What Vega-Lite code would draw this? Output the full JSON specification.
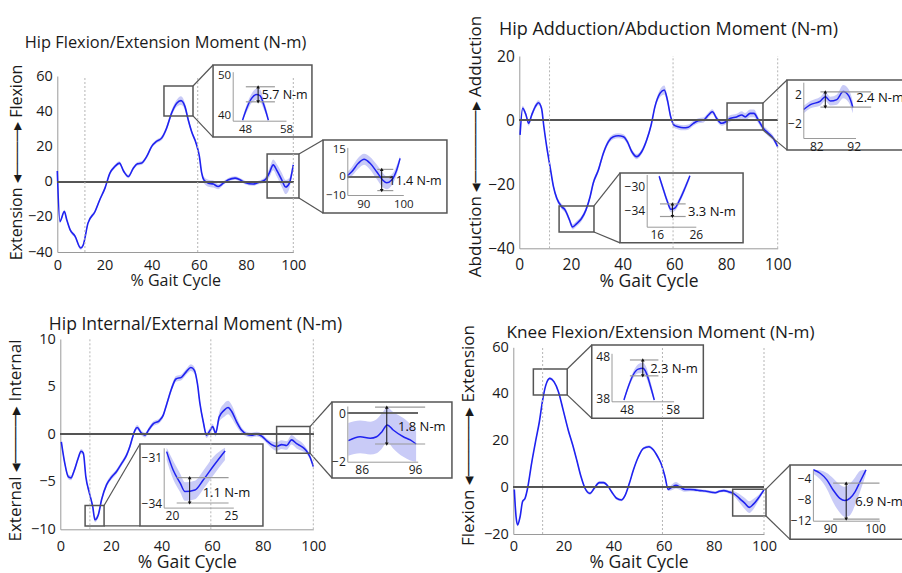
{
  "$schema": "https://vega.github.io/schema/vega-lite/v6.json",
  "width": 902,
  "height": 573,
  "padding": 0,
  "autosize": {"type": "none"},
  "background": "white",
  "config": {
    "view": {"stroke": null},
    "font": "Open Sans",
    "axis": {"grid": false, "ticks": false, "labelFlush": false, "labelOverlap": false, "domainColor": "#9a9a9a", "labelColor": "#1a1a1a", "titleColor": "#1a1a1a", "titleFontWeight": "normal", "labelFont": "Open Sans", "titleFont": "Open Sans"}
  },
  "datasets": {
    "events": [{"event": 11.7}, {"event": 59.5}, {"event": 100}],
    "hipFlexExt": [
      {"cycle": 0, "mean": 6, "lower": 5, "upper": 7},
      {"cycle": 1.1, "mean": -22.6, "lower": -23.6, "upper": -21.6},
      {"cycle": 3, "mean": -17, "lower": -18, "upper": -16},
      {"cycle": 4, "mean": -21.7, "lower": -22.7, "upper": -20.7},
      {"cycle": 5.4, "mean": -27.3, "lower": -28.3, "upper": -26.3},
      {"cycle": 7.5, "mean": -31, "lower": -32, "upper": -30},
      {"cycle": 9.9, "mean": -37.7, "lower": -38.7, "upper": -36.7},
      {"cycle": 11, "mean": -36, "lower": -37, "upper": -35},
      {"cycle": 13, "mean": -23.6, "lower": -24.6, "upper": -22.6},
      {"cycle": 16, "mean": -17, "lower": -18, "upper": -16},
      {"cycle": 18, "mean": -10.3, "lower": -11.3, "upper": -9.3},
      {"cycle": 20.2, "mean": -3.7, "lower": -4.7, "upper": -2.7},
      {"cycle": 22.3, "mean": 4.8, "lower": 3.8, "upper": 5.8},
      {"cycle": 24.4, "mean": 8.6, "lower": 7.6, "upper": 9.6},
      {"cycle": 26.3, "mean": 10.5, "lower": 9.5, "upper": 11.5},
      {"cycle": 28.2, "mean": 5.7, "lower": 4.7, "upper": 6.7},
      {"cycle": 30.1, "mean": 2.9, "lower": 1.9, "upper": 3.9},
      {"cycle": 32.2, "mean": 7.6, "lower": 6.6, "upper": 8.6},
      {"cycle": 34, "mean": 10.1, "lower": 9.1, "upper": 11.1},
      {"cycle": 35.7, "mean": 10.5, "lower": 9.5, "upper": 11.5},
      {"cycle": 37.9, "mean": 14.3, "lower": 13.3, "upper": 15.3},
      {"cycle": 40, "mean": 20, "lower": 19, "upper": 21},
      {"cycle": 42, "mean": 22.8, "lower": 21.8, "upper": 23.8},
      {"cycle": 44.2, "mean": 24.7, "lower": 23.5, "upper": 25.9},
      {"cycle": 46.3, "mean": 30.3, "lower": 28.8, "upper": 31.8},
      {"cycle": 48.4, "mean": 38.8, "lower": 37, "upper": 40.6},
      {"cycle": 50.6, "mean": 44.5, "lower": 42.5, "upper": 46.5},
      {"cycle": 52.4, "mean": 46, "lower": 43.5, "upper": 48.5},
      {"cycle": 54.1, "mean": 42.6, "lower": 40.6, "upper": 44.6},
      {"cycle": 55.5, "mean": 35, "lower": 33.5, "upper": 36.5},
      {"cycle": 56.9, "mean": 28.4, "lower": 27.2, "upper": 29.6},
      {"cycle": 58.8, "mean": 21.8, "lower": 20.8, "upper": 22.8},
      {"cycle": 60.2, "mean": 14.3, "lower": 13.3, "upper": 15.3},
      {"cycle": 61.2, "mean": 4.8, "lower": 3.3, "upper": 6.3},
      {"cycle": 62.1, "mean": 1, "lower": -0.8, "upper": 2.8},
      {"cycle": 64, "mean": -0.9, "lower": -2.9, "upper": 1.1},
      {"cycle": 66.1, "mean": -1.4, "lower": -3.4, "upper": 0.6},
      {"cycle": 68.2, "mean": -2.8, "lower": -4.3, "upper": -1.3},
      {"cycle": 70.3, "mean": -0.9, "lower": -1.9, "upper": 0.1},
      {"cycle": 72.5, "mean": 1, "lower": 0, "upper": 2},
      {"cycle": 75.3, "mean": 2, "lower": 1, "upper": 3},
      {"cycle": 77.4, "mean": 1, "lower": 0, "upper": 2},
      {"cycle": 79.5, "mean": -0.5, "lower": -1.5, "upper": 0.5},
      {"cycle": 83, "mean": -1.4, "lower": -2.4, "upper": -0.4},
      {"cycle": 85.2, "mean": -0.5, "lower": -1.5, "upper": 0.5},
      {"cycle": 88, "mean": 1, "lower": -0.5, "upper": 2.5},
      {"cycle": 89.8, "mean": 4.8, "lower": 2.3, "upper": 7.3},
      {"cycle": 91.5, "mean": 9.5, "lower": 6.5, "upper": 12.5},
      {"cycle": 92.9, "mean": 6.7, "lower": 3.2, "upper": 10.2},
      {"cycle": 95.1, "mean": 1, "lower": -3, "upper": 5},
      {"cycle": 96.8, "mean": -3.1, "lower": -7.1, "upper": 0.9},
      {"cycle": 98.3, "mean": -1, "lower": -4, "upper": 2},
      {"cycle": 100, "mean": 9.5, "lower": 7.5, "upper": 11.5}
    ],
    "hipAddAbd": [
      {"cycle": 0.3, "mean": -4.6, "lower": -5.4, "upper": -3.8},
      {"cycle": 1.3, "mean": 3.7, "lower": 2.9, "upper": 4.5},
      {"cycle": 2.6, "mean": 1.6, "lower": 0.8, "upper": 2.4},
      {"cycle": 3.6, "mean": -1, "lower": -1.8, "upper": -0.2},
      {"cycle": 4.8, "mean": 1.6, "lower": 0.8, "upper": 2.4},
      {"cycle": 6.2, "mean": 4.2, "lower": 3.4, "upper": 5},
      {"cycle": 7.4, "mean": 5.4, "lower": 4.6, "upper": 6.2},
      {"cycle": 8.6, "mean": 3.7, "lower": 2.9, "upper": 4.5},
      {"cycle": 9.5, "mean": -2, "lower": -2.8, "upper": -1.2},
      {"cycle": 10.6, "mean": -8.3, "lower": -9.1, "upper": -7.5},
      {"cycle": 11.9, "mean": -14.5, "lower": -15.3, "upper": -13.7},
      {"cycle": 13.2, "mean": -20.7, "lower": -21.5, "upper": -19.9},
      {"cycle": 14.5, "mean": -24.4, "lower": -25.2, "upper": -23.6},
      {"cycle": 16.4, "mean": -27, "lower": -27.8, "upper": -26.2},
      {"cycle": 17.7, "mean": -28, "lower": -28.8, "upper": -27.2},
      {"cycle": 19.4, "mean": -31.1, "lower": -31.9, "upper": -30.3},
      {"cycle": 20.6, "mean": -33.3, "lower": -34.1, "upper": -32.5},
      {"cycle": 22.2, "mean": -32.3, "lower": -33.1, "upper": -31.5},
      {"cycle": 24, "mean": -30.8, "lower": -31.6, "upper": -30},
      {"cycle": 25.8, "mean": -28, "lower": -28.8, "upper": -27.2},
      {"cycle": 27.4, "mean": -23.9, "lower": -24.7, "upper": -23.1},
      {"cycle": 28.6, "mean": -19.7, "lower": -20.5, "upper": -18.9},
      {"cycle": 30.6, "mean": -15.6, "lower": -16.4, "upper": -14.8},
      {"cycle": 32.5, "mean": -10.4, "lower": -11.2, "upper": -9.6},
      {"cycle": 34.5, "mean": -6.7, "lower": -7.5, "upper": -5.9},
      {"cycle": 36.4, "mean": -5.2, "lower": -6, "upper": -4.4},
      {"cycle": 38.3, "mean": -4.9, "lower": -5.7, "upper": -4.1},
      {"cycle": 40.3, "mean": -5.2, "lower": -6, "upper": -4.4},
      {"cycle": 41.8, "mean": -6.7, "lower": -7.5, "upper": -5.9},
      {"cycle": 43.5, "mean": -9.8, "lower": -10.6, "upper": -9},
      {"cycle": 45.4, "mean": -11.4, "lower": -12.2, "upper": -10.6},
      {"cycle": 47.4, "mean": -9.8, "lower": -10.6, "upper": -9},
      {"cycle": 49.3, "mean": -6.2, "lower": -7, "upper": -5.4},
      {"cycle": 51, "mean": -1.6, "lower": -2.4, "upper": -0.8},
      {"cycle": 52.5, "mean": 4.2, "lower": 3.4, "upper": 5},
      {"cycle": 54.5, "mean": 8.4, "lower": 7.2, "upper": 9.6},
      {"cycle": 56.1, "mean": 9.4, "lower": 8, "upper": 10.8},
      {"cycle": 57.3, "mean": 6.3, "lower": 5.1, "upper": 7.5},
      {"cycle": 58.6, "mean": 1, "lower": 0.2, "upper": 1.8},
      {"cycle": 59.9, "mean": -1.6, "lower": -2.4, "upper": -0.8},
      {"cycle": 61.5, "mean": -2.1, "lower": -2.9, "upper": -1.3},
      {"cycle": 63.5, "mean": -2.4, "lower": -3.2, "upper": -1.6},
      {"cycle": 65.4, "mean": -2.2, "lower": -3, "upper": -1.4},
      {"cycle": 67.4, "mean": -1, "lower": -1.8, "upper": -0.2},
      {"cycle": 69.3, "mean": -0.2, "lower": -1, "upper": 0.6},
      {"cycle": 71.2, "mean": 0, "lower": -0.8, "upper": 0.8},
      {"cycle": 73.2, "mean": 1.6, "lower": 0.8, "upper": 2.4},
      {"cycle": 74.7, "mean": 2.6, "lower": 1.8, "upper": 3.4},
      {"cycle": 76.4, "mean": 0.5, "lower": -0.3, "upper": 1.3},
      {"cycle": 78.3, "mean": -1, "lower": -1.8, "upper": -0.2},
      {"cycle": 80, "mean": -0.5, "lower": -1.3, "upper": 0.3},
      {"cycle": 81.5, "mean": 0.5, "lower": -0.5, "upper": 1.5},
      {"cycle": 84.1, "mean": 1, "lower": 0, "upper": 2},
      {"cycle": 86.1, "mean": 1.6, "lower": 0.4, "upper": 2.8},
      {"cycle": 87.4, "mean": 1, "lower": -0.2, "upper": 2.2},
      {"cycle": 89.3, "mean": 2.1, "lower": 0.9, "upper": 3.3},
      {"cycle": 90.8, "mean": 2.1, "lower": 0.9, "upper": 3.3},
      {"cycle": 92.5, "mean": 0, "lower": -1, "upper": 1},
      {"cycle": 94.5, "mean": -2.6, "lower": -3.5, "upper": -1.7},
      {"cycle": 96.4, "mean": -4.1, "lower": -5, "upper": -3.2},
      {"cycle": 98.3, "mean": -5.7, "lower": -6.5, "upper": -4.9},
      {"cycle": 100, "mean": -8.3, "lower": -9, "upper": -7.6}
    ],
    "hipIntExt": [
      {"cycle": 0.4, "mean": -0.8, "lower": -1.05, "upper": -0.55},
      {"cycle": 1.8, "mean": -3.1, "lower": -3.35, "upper": -2.85},
      {"cycle": 3.2, "mean": -4.5, "lower": -4.75, "upper": -4.25},
      {"cycle": 4.2, "mean": -4.6, "lower": -4.85, "upper": -4.35},
      {"cycle": 5.4, "mean": -3.9, "lower": -4.15, "upper": -3.65},
      {"cycle": 7.1, "mean": -2.5, "lower": -2.75, "upper": -2.25},
      {"cycle": 8.2, "mean": -1.8, "lower": -2.05, "upper": -1.55},
      {"cycle": 9.1, "mean": -2, "lower": -2.25, "upper": -1.75},
      {"cycle": 10.1, "mean": -4.5, "lower": -4.75, "upper": -4.25},
      {"cycle": 11.5, "mean": -6.2, "lower": -6.45, "upper": -5.95},
      {"cycle": 12.8, "mean": -7.6, "lower": -7.85, "upper": -7.35},
      {"cycle": 13.7, "mean": -9, "lower": -9.25, "upper": -8.75},
      {"cycle": 15, "mean": -8.5, "lower": -8.75, "upper": -8.25},
      {"cycle": 16.3, "mean": -6.9, "lower": -7.15, "upper": -6.65},
      {"cycle": 18.3, "mean": -5.3, "lower": -5.55, "upper": -5.05},
      {"cycle": 20.3, "mean": -4.5, "lower": -4.75, "upper": -4.25},
      {"cycle": 22.3, "mean": -3.9, "lower": -4.15, "upper": -3.65},
      {"cycle": 24.2, "mean": -3.1, "lower": -3.35, "upper": -2.85},
      {"cycle": 26.2, "mean": -2.2, "lower": -2.45, "upper": -1.95},
      {"cycle": 27.5, "mean": -1.3, "lower": -1.55, "upper": -1.05},
      {"cycle": 28.6, "mean": -0.3, "lower": -0.55, "upper": -0.05},
      {"cycle": 29.5, "mean": 0.4, "lower": 0.15, "upper": 0.65},
      {"cycle": 30.4, "mean": 0.7, "lower": 0.45, "upper": 0.95},
      {"cycle": 32.1, "mean": 0.1, "lower": -0.15, "upper": 0.35},
      {"cycle": 33.5, "mean": -0.1, "lower": -0.35, "upper": 0.15},
      {"cycle": 34.8, "mean": 0.4, "lower": 0.15, "upper": 0.65},
      {"cycle": 36.8, "mean": 1.1, "lower": 0.85, "upper": 1.35},
      {"cycle": 39.1, "mean": 1.4, "lower": 1.15, "upper": 1.65},
      {"cycle": 40.7, "mean": 2, "lower": 1.75, "upper": 2.25},
      {"cycle": 42, "mean": 3.1, "lower": 2.85, "upper": 3.35},
      {"cycle": 44, "mean": 4.8, "lower": 4.5, "upper": 5.1},
      {"cycle": 45.7, "mean": 5.8, "lower": 5.5, "upper": 6.1},
      {"cycle": 48, "mean": 6, "lower": 5.7, "upper": 6.3},
      {"cycle": 49.9, "mean": 6.6, "lower": 6.3, "upper": 6.9},
      {"cycle": 51.6, "mean": 7, "lower": 6.65, "upper": 7.35},
      {"cycle": 53, "mean": 6.7, "lower": 6.35, "upper": 7.05},
      {"cycle": 54.2, "mean": 5.3, "lower": 5, "upper": 5.6},
      {"cycle": 55.2, "mean": 3.2, "lower": 2.9, "upper": 3.5},
      {"cycle": 56.5, "mean": 1.3, "lower": 1, "upper": 1.6},
      {"cycle": 57.8, "mean": -0.1, "lower": -0.4, "upper": 0.2},
      {"cycle": 59.2, "mean": 0.4, "lower": 0.1, "upper": 0.7},
      {"cycle": 60.2, "mean": 0.8, "lower": 0.5, "upper": 1.1},
      {"cycle": 61.4, "mean": 0.1, "lower": -0.25, "upper": 0.45},
      {"cycle": 62.8, "mean": 1.8, "lower": 1.3, "upper": 2.3},
      {"cycle": 64.7, "mean": 2.5, "lower": 1.8, "upper": 3.2},
      {"cycle": 66.3, "mean": 2.8, "lower": 2.1, "upper": 3.5},
      {"cycle": 67.7, "mean": 2.4, "lower": 1.7, "upper": 3.1},
      {"cycle": 69.7, "mean": 1.3, "lower": 0.8, "upper": 1.8},
      {"cycle": 71.7, "mean": 0.4, "lower": 0.1, "upper": 0.7},
      {"cycle": 73.6, "mean": 0, "lower": -0.25, "upper": 0.25},
      {"cycle": 75.6, "mean": -0.1, "lower": -0.35, "upper": 0.15},
      {"cycle": 77.6, "mean": 0, "lower": -0.25, "upper": 0.25},
      {"cycle": 79.6, "mean": -0.2, "lower": -0.45, "upper": 0.05},
      {"cycle": 81.6, "mean": -0.7, "lower": -0.95, "upper": -0.45},
      {"cycle": 83.5, "mean": -1.1, "lower": -1.45, "upper": -0.75},
      {"cycle": 85.5, "mean": -1.3, "lower": -1.75, "upper": -0.85},
      {"cycle": 87.5, "mean": -1.1, "lower": -1.55, "upper": -0.65},
      {"cycle": 89.5, "mean": -1.2, "lower": -1.65, "upper": -0.75},
      {"cycle": 91.4, "mean": -0.6, "lower": -1.1, "upper": -0.1},
      {"cycle": 93.4, "mean": -1, "lower": -1.5, "upper": -0.5},
      {"cycle": 95.4, "mean": -1.3, "lower": -1.75, "upper": -0.85},
      {"cycle": 97.1, "mean": -1.7, "lower": -2, "upper": -1.4},
      {"cycle": 98.7, "mean": -2.4, "lower": -2.65, "upper": -2.15},
      {"cycle": 100, "mean": -3.4, "lower": -3.6, "upper": -3.2}
    ],
    "kneeFlexExt": [
      {"cycle": 0.4, "mean": -0.9, "lower": -1.5, "upper": -0.3},
      {"cycle": 1.1, "mean": -12.6, "lower": -13.2, "upper": -12},
      {"cycle": 1.7, "mean": -16.1, "lower": -16.7, "upper": -15.5},
      {"cycle": 2.7, "mean": -12.6, "lower": -13.2, "upper": -12},
      {"cycle": 3.7, "mean": -6.1, "lower": -6.7, "upper": -5.5},
      {"cycle": 4.7, "mean": -4.7, "lower": -5.3, "upper": -4.1},
      {"cycle": 5.7, "mean": -0.4, "lower": -1, "upper": 0.2},
      {"cycle": 7.3, "mean": 10.3, "lower": 9.7, "upper": 10.9},
      {"cycle": 9, "mean": 20.3, "lower": 19.7, "upper": 20.9},
      {"cycle": 10.4, "mean": 28.1, "lower": 27.5, "upper": 28.7},
      {"cycle": 11.7, "mean": 37.4, "lower": 36.8, "upper": 38},
      {"cycle": 13, "mean": 43.9, "lower": 43.3, "upper": 44.5},
      {"cycle": 14.6, "mean": 46.7, "lower": 46.1, "upper": 47.3},
      {"cycle": 16.2, "mean": 45.3, "lower": 44.7, "upper": 45.9},
      {"cycle": 18, "mean": 41, "lower": 40.4, "upper": 41.6},
      {"cycle": 19.9, "mean": 33.1, "lower": 32.5, "upper": 33.7},
      {"cycle": 21.9, "mean": 24.6, "lower": 24, "upper": 25.2},
      {"cycle": 23.7, "mean": 18.1, "lower": 17.5, "upper": 18.7},
      {"cycle": 25.3, "mean": 11.7, "lower": 11.1, "upper": 12.3},
      {"cycle": 27, "mean": 4.6, "lower": 4, "upper": 5.2},
      {"cycle": 28.6, "mean": -0.4, "lower": -1, "upper": 0.2},
      {"cycle": 30.6, "mean": -2.6, "lower": -3.2, "upper": -2},
      {"cycle": 32.3, "mean": -0.4, "lower": -1, "upper": 0.2},
      {"cycle": 34.3, "mean": 2, "lower": 1.4, "upper": 2.6},
      {"cycle": 35.9, "mean": 2, "lower": 1.4, "upper": 2.6},
      {"cycle": 37.9, "mean": 0.3, "lower": -0.3, "upper": 0.9},
      {"cycle": 39.2, "mean": -1.9, "lower": -2.5, "upper": -1.3},
      {"cycle": 41.2, "mean": -4.7, "lower": -5.3, "upper": -4.1},
      {"cycle": 43.2, "mean": -5.4, "lower": -6, "upper": -4.8},
      {"cycle": 44.5, "mean": -3.7, "lower": -4.3, "upper": -3.1},
      {"cycle": 46.3, "mean": 1.7, "lower": 1.1, "upper": 2.3},
      {"cycle": 47.9, "mean": 7.4, "lower": 6.8, "upper": 8},
      {"cycle": 49.9, "mean": 13.1, "lower": 12.5, "upper": 13.7},
      {"cycle": 51.9, "mean": 16.7, "lower": 16.1, "upper": 17.3},
      {"cycle": 54.1, "mean": 17.4, "lower": 16.8, "upper": 18},
      {"cycle": 55.9, "mean": 16, "lower": 15.4, "upper": 16.6},
      {"cycle": 57.6, "mean": 13.1, "lower": 12.5, "upper": 13.7},
      {"cycle": 58.9, "mean": 10.3, "lower": 9.7, "upper": 10.9},
      {"cycle": 60.5, "mean": 4.6, "lower": 4, "upper": 5.2},
      {"cycle": 61.8, "mean": -0.9, "lower": -1.6, "upper": -0.2},
      {"cycle": 63.2, "mean": 0, "lower": -1.2, "upper": 1.2},
      {"cycle": 64.9, "mean": 0.9, "lower": -0.5, "upper": 2.3},
      {"cycle": 66.5, "mean": 0.1, "lower": -1.1, "upper": 1.3},
      {"cycle": 68.5, "mean": -0.9, "lower": -1.9, "upper": 0.1},
      {"cycle": 70.5, "mean": -0.9, "lower": -1.7, "upper": -0.1},
      {"cycle": 72.5, "mean": -1.1, "lower": -1.8, "upper": -0.4},
      {"cycle": 74.5, "mean": -1.4, "lower": -2, "upper": -0.8},
      {"cycle": 76.5, "mean": -1.6, "lower": -2.2, "upper": -1},
      {"cycle": 78.5, "mean": -2, "lower": -2.6, "upper": -1.4},
      {"cycle": 80.5, "mean": -2.3, "lower": -2.9, "upper": -1.7},
      {"cycle": 82.2, "mean": -1.7, "lower": -2.3, "upper": -1.1},
      {"cycle": 84, "mean": -1.4, "lower": -2, "upper": -0.8},
      {"cycle": 85.8, "mean": -1.9, "lower": -2.6, "upper": -1.2},
      {"cycle": 87.8, "mean": -2.6, "lower": -3.6, "upper": -1.6},
      {"cycle": 90.2, "mean": -4.7, "lower": -6.5, "upper": -2.9},
      {"cycle": 92.4, "mean": -6.9, "lower": -9.4, "upper": -4.6},
      {"cycle": 94.1, "mean": -8.6, "lower": -11, "upper": -6},
      {"cycle": 95.7, "mean": -7.3, "lower": -9.5, "upper": -5},
      {"cycle": 97.7, "mean": -4.7, "lower": -6, "upper": -3.4},
      {"cycle": 100, "mean": -1.1, "lower": -1.8, "upper": -0.4}
    ],
    "zoom1a": [
      {"cycle": 47.4, "mean": 38.9, "lower": 38.9, "upper": 39.6},
      {"cycle": 48.4, "mean": 41.85, "lower": 40.9, "upper": 42.8},
      {"cycle": 49.6, "mean": 44.35, "lower": 43.2, "upper": 45.5},
      {"cycle": 50.9, "mean": 45.35, "lower": 44, "upper": 46.8},
      {"cycle": 51.7, "mean": 45, "lower": 43.6, "upper": 46.5},
      {"cycle": 52.6, "mean": 42.7, "lower": 41.5, "upper": 43.9},
      {"cycle": 53.7, "mean": 38.9, "lower": 38.9, "upper": 39.8}
    ],
    "zoom1b": [
      {"cycle": 86, "mean": 0.55, "lower": -1.5, "upper": 2.5},
      {"cycle": 87.1, "mean": 2.7, "lower": 0.2, "upper": 5.2},
      {"cycle": 88.75, "mean": 7.3, "lower": 4.3, "upper": 10.3},
      {"cycle": 90.2, "mean": 9.5, "lower": 6.5, "upper": 12.5},
      {"cycle": 91.7, "mean": 7.3, "lower": 3.8, "upper": 10.8},
      {"cycle": 93.35, "mean": 2.7, "lower": -1.3, "upper": 6.7},
      {"cycle": 94.85, "mean": -1.8, "lower": -5.8, "upper": 2.2},
      {"cycle": 95.85, "mean": -3.3, "lower": -6.8, "upper": 0.2},
      {"cycle": 97.1, "mean": -1.8, "lower": -4.8, "upper": 1.2},
      {"cycle": 98.35, "mean": 3.7, "lower": 1.2, "upper": 6.2},
      {"cycle": 99.2, "mean": 10, "lower": 8.5, "upper": 11.5}
    ],
    "zoom2a": [
      {"cycle": 16.6, "mean": -28.3, "lower": -28.8, "upper": -28},
      {"cycle": 17.7, "mean": -30.55, "lower": -31.05, "upper": -30.05},
      {"cycle": 18.7, "mean": -32.5, "lower": -33, "upper": -32},
      {"cycle": 19.6, "mean": -33.8, "lower": -34.3, "upper": -33.3},
      {"cycle": 20.6, "mean": -33.6, "lower": -34.1, "upper": -33.1},
      {"cycle": 21.9, "mean": -32.2, "lower": -32.7, "upper": -31.7},
      {"cycle": 23.2, "mean": -30.3, "lower": -30.8, "upper": -29.8},
      {"cycle": 24.5, "mean": -28.2, "lower": -28.7, "upper": -28}
    ],
    "zoom2b": [
      {"cycle": 78.6, "mean": -0.07, "lower": -0.6, "upper": 0.45},
      {"cycle": 80.4, "mean": 0.6, "lower": 0.1, "upper": 1.1},
      {"cycle": 83.1, "mean": 1.1, "lower": 0.5, "upper": 1.7},
      {"cycle": 84.4, "mean": 1.7, "lower": 1.1, "upper": 2.3},
      {"cycle": 85.75, "mean": 1.1, "lower": 0.5, "upper": 1.7},
      {"cycle": 87.5, "mean": 1.3, "lower": 0.6, "upper": 2},
      {"cycle": 89.2, "mean": 2.4, "lower": 1.5, "upper": 3.3},
      {"cycle": 90.7, "mean": 1.8, "lower": 0.9, "upper": 2.7},
      {"cycle": 91.8, "mean": 0.2, "lower": -0.6, "upper": 1}
    ],
    "zoom3a": [
      {"cycle": 19.55, "mean": -30.65, "lower": -31.2, "upper": -30.4},
      {"cycle": 20.1, "mean": -31.85, "lower": -32.45, "upper": -31.25},
      {"cycle": 20.7, "mean": -32.7, "lower": -33.3, "upper": -32.1},
      {"cycle": 21.1, "mean": -33.25, "lower": -33.85, "upper": -32.65},
      {"cycle": 21.95, "mean": -33.15, "lower": -33.75, "upper": -32.55},
      {"cycle": 22.65, "mean": -32.5, "lower": -33.1, "upper": -31.9},
      {"cycle": 23.5, "mean": -31.6, "lower": -32.2, "upper": -31},
      {"cycle": 24.5, "mean": -30.6, "lower": -31.2, "upper": -30.4}
    ],
    "zoom3b": [
      {"cycle": 83.5, "mean": -1.13, "lower": -1.75, "upper": -0.4},
      {"cycle": 85.7, "mean": -0.97, "lower": -1.65, "upper": -0.3},
      {"cycle": 87.6, "mean": -1.03, "lower": -1.7, "upper": -0.35},
      {"cycle": 88.8, "mean": -0.97, "lower": -1.65, "upper": -0.25},
      {"cycle": 89.8, "mean": -0.76, "lower": -1.45, "upper": 0},
      {"cycle": 90.8, "mean": -0.48, "lower": -1.2, "upper": 0.25},
      {"cycle": 91.9, "mean": -0.69, "lower": -1.45, "upper": 0.05},
      {"cycle": 93.8, "mean": -0.97, "lower": -1.8, "upper": -0.2},
      {"cycle": 95.1, "mean": -1.1, "lower": -1.95, "upper": -0.45},
      {"cycle": 96.2, "mean": -1.27, "lower": -2, "upper": -0.75}
    ],
    "zoom4a": [
      {"cycle": 47.4, "mean": 37.6, "lower": 37.3, "upper": 38},
      {"cycle": 48.35, "mean": 40.8, "lower": 40.2, "upper": 41.4},
      {"cycle": 49.4, "mean": 43.6, "lower": 42.8, "upper": 44.4},
      {"cycle": 50.5, "mean": 45, "lower": 44, "upper": 46.2},
      {"cycle": 51.5, "mean": 45.2, "lower": 44, "upper": 46.6},
      {"cycle": 52.3, "mean": 44, "lower": 42.8, "upper": 45.4},
      {"cycle": 53.1, "mean": 41.2, "lower": 40.2, "upper": 42.4},
      {"cycle": 54, "mean": 37.6, "lower": 37.3, "upper": 38.4}
    ],
    "zoom4b": [
      {"cycle": 86.3, "mean": -2.4, "lower": -3.2, "upper": -2.4},
      {"cycle": 87.8, "mean": -3.05, "lower": -4.2, "upper": -2.5},
      {"cycle": 89.3, "mean": -4.3, "lower": -6, "upper": -3},
      {"cycle": 90.7, "mean": -6.2, "lower": -8.5, "upper": -4},
      {"cycle": 92.2, "mean": -7.8, "lower": -10.5, "upper": -5.2},
      {"cycle": 93.3, "mean": -8.2, "lower": -11.3, "upper": -5.6},
      {"cycle": 94.4, "mean": -7.8, "lower": -11, "upper": -5},
      {"cycle": 95.6, "mean": -6.5, "lower": -9, "upper": -3.8},
      {"cycle": 96.7, "mean": -4.6, "lower": -6.5, "upper": -2.6},
      {"cycle": 98, "mean": -2.4, "lower": -3.2, "upper": -2.4}
    ],
    "annotations": [
      {"inset": "1a", "at": 51.2, "from": 48.2, "to": 55.3, "high": 47.25, "low": 43.5, "labelAt": 52.1, "mid": 45.2, "label": "5.7 N-m"},
      {"inset": "1b", "at": 94.6, "from": 93.5, "to": 97.5, "high": 4, "low": -7.6, "labelAt": 96.3, "mid": -2.6, "label": "11.4 N-m"},
      {"inset": "2a", "at": 20, "from": 16.8, "to": 23.4, "high": -32.9, "low": -35, "labelAt": 24, "mid": -34.2, "label": "3.3 N-m"},
      {"inset": "2b", "at": 84.4, "from": 83.1, "to": 96.7, "high": 2.37, "low": 0.25, "labelAt": 92.7, "mid": 1.5, "label": "2.4 N-m"},
      {"inset": "3a", "at": 21.5, "from": 20.4, "to": 24.8, "high": -32.35, "low": -34, "labelAt": 22.6, "mid": -33.35, "label": "1.1 N-m"},
      {"inset": "3b", "at": 90.7, "from": 88.5, "to": 97.9, "high": 0.25, "low": -1.27, "labelAt": 92.8, "mid": -0.55, "label": "1.8 N-m"},
      {"inset": "4a", "at": 51.5, "from": 48.7, "to": 54.9, "high": 47.2, "low": 43.4, "labelAt": 53.1, "mid": 45, "label": "2.3 N-m"},
      {"inset": "4b", "at": 93.6, "from": 90.7, "to": 101, "high": -4.9, "low": -11.7, "labelAt": 95.6, "mid": -8.4, "label": "6.9 N-m"}
    ],
    "frames": [
      {"panel": 1, "part": "inset", "x1": 66, "x2": 107.9, "y1": 66.25, "y2": 25.3},
      {"panel": 1, "part": "inset", "x1": 112.6, "x2": 165.1, "y1": 23.6, "y2": -17.8},
      {"panel": 1, "part": "source", "x1": 45.2, "x2": 57.5, "y1": 54.3, "y2": 37.3},
      {"panel": 1, "part": "source", "x1": 88.9, "x2": 102.4, "y1": 15.7, "y2": -9.3},
      {"panel": 2, "part": "inset", "x1": 39, "x2": 86.6, "y1": -16.5, "y2": -38.3},
      {"panel": 2, "part": "inset", "x1": 103.6, "x2": 151.2, "y1": 12.5, "y2": -9.3},
      {"panel": 2, "part": "source", "x1": 15.4, "x2": 28.9, "y1": -26.8, "y2": -34.9},
      {"panel": 2, "part": "source", "x1": 80.4, "x2": 94.3, "y1": 5.3, "y2": -3.1},
      {"panel": 3, "part": "inset", "x1": 31.5, "x2": 80.1, "y1": -1.04, "y2": -9.65},
      {"panel": 3, "part": "inset", "x1": 107.4, "x2": 154.8, "y1": 3.38, "y2": -4.61},
      {"panel": 3, "part": "source", "x1": 9.8, "x2": 17.3, "y1": -7.5, "y2": -9.65},
      {"panel": 3, "part": "source", "x1": 85.5, "x2": 98.7, "y1": 0.8, "y2": -2},
      {"panel": 4, "part": "inset", "x1": 31.3, "x2": 75.8, "y1": 61, "y2": 29.6},
      {"panel": 4, "part": "inset", "x1": 110.4, "x2": 158.2, "y1": 9.57, "y2": -22.3},
      {"panel": 4, "part": "source", "x1": 8, "x2": 21.5, "y1": 50.7, "y2": 39.6},
      {"panel": 4, "part": "source", "x1": 87.5, "x2": 100.8, "y1": -0.8, "y2": -12.3}
    ],
    "links": [
      {"panel": 1, "x1": 57.5, "y1": 54.3, "x2": 66, "y2": 66.25},
      {"panel": 1, "x1": 57.5, "y1": 37.3, "x2": 66, "y2": 25.3},
      {"panel": 1, "x1": 102.4, "y1": 15.7, "x2": 112.6, "y2": 23.6},
      {"panel": 1, "x1": 102.4, "y1": -9.3, "x2": 112.6, "y2": -17.8},
      {"panel": 2, "x1": 28.9, "y1": -26.8, "x2": 39, "y2": -16.5},
      {"panel": 2, "x1": 28.9, "y1": -34.9, "x2": 39, "y2": -38.3},
      {"panel": 2, "x1": 94.3, "y1": 5.3, "x2": 103.6, "y2": 12.5},
      {"panel": 2, "x1": 94.3, "y1": -3.1, "x2": 103.6, "y2": -9.3},
      {"panel": 3, "x1": 17.3, "y1": -7.5, "x2": 31.5, "y2": -1.04},
      {"panel": 3, "x1": 17.3, "y1": -9.65, "x2": 31.5, "y2": -9.65},
      {"panel": 3, "x1": 98.7, "y1": 0.8, "x2": 107.4, "y2": 3.38},
      {"panel": 3, "x1": 98.7, "y1": -2, "x2": 107.4, "y2": -4.61},
      {"panel": 4, "x1": 21.5, "y1": 50.7, "x2": 31.3, "y2": 61},
      {"panel": 4, "x1": 21.5, "y1": 39.6, "x2": 31.3, "y2": 29.6},
      {"panel": 4, "x1": 100.8, "y1": -0.8, "x2": 110.4, "y2": 9.57},
      {"panel": 4, "x1": 100.8, "y1": -12.3, "x2": 110.4, "y2": -22.3}
    ]
  },
  "resolve": {"scale": {"x": "independent", "y": "independent"}, "axis": {"x": "independent", "y": "independent"}},
  "layer": [
    {
      "data": {"name": "hipFlexExt"},
      "layer": [
        {"mark": {"type": "area", "interpolate": "monotone", "color": "#c9cbf7"},
         "encoding": {
           "x": {"field": "cycle", "type": "quantitative", "scale": {"domain": [0, 100], "range": [57.3, 293.3], "nice": false, "zero": false},
                 "axis": {"orient": "bottom", "offset": -321, "values": [0, 20, 40, 60, 80, 100], "title": "% Gait Cycle", "labelFontSize": 14.5, "titleFontSize": 16, "labelPadding": 6, "titlePadding": 1}},
           "y": {"field": "lower", "type": "quantitative", "scale": {"domain": [-40, 60], "range": [252, 76], "nice": false, "zero": false},
                 "axis": {"orient": "left", "offset": -57.3, "values": [-40, -20, 0, 20, 40, 60], "title": "Extension ◂────▸ Flexion", "labelFontSize": 14.5, "titleFontSize": 16, "labelPadding": 5, "titlePadding": 3, "titleY": 162}},
           "y2": {"field": "upper"}}},
        {"mark": {"type": "line", "interpolate": "monotone", "color": "#1f22f0", "strokeWidth": 1.6},
         "encoding": {"x": {"field": "cycle", "type": "quantitative"}, "y": {"field": "mean", "type": "quantitative"}}},
        {"mark": {"type": "rule", "color": "#555555", "strokeWidth": 1.4},
         "encoding": {"x": {"datum": 0}, "x2": {"datum": 100}, "y": {"datum": 0}}},
        {"data": {"name": "frames"}, "transform": [{"filter": "datum.panel == 1 && datum.part == 'inset'"}],
         "mark": {"type": "rect", "fill": "white", "stroke": "#555555", "strokeWidth": 1.5},
         "encoding": {"x": {"field": "x1", "type": "quantitative"}, "x2": {"field": "x2"}, "y": {"field": "y1", "type": "quantitative"}, "y2": {"field": "y2"}}},
        {"data": {"name": "frames"}, "transform": [{"filter": "datum.panel == 1 && datum.part == 'source'"}],
         "mark": {"type": "rect", "filled": false, "color": "#555555", "strokeWidth": 1.5},
         "encoding": {"x": {"field": "x1", "type": "quantitative"}, "x2": {"field": "x2"}, "y": {"field": "y1", "type": "quantitative"}, "y2": {"field": "y2"}}},
        {"data": {"name": "links"}, "transform": [{"filter": "datum.panel == 1"}],
         "mark": {"type": "rule", "color": "#555555", "strokeWidth": 1.2},
         "encoding": {"x": {"field": "x1", "type": "quantitative"}, "x2": {"field": "x2"}, "y": {"field": "y1", "type": "quantitative"}, "y2": {"field": "y2"}}}
      ]
    },
    {
      "data": {"name": "events"},
      "mark": {"type": "rule", "color": "#b5b5b5", "strokeDash": [2, 2], "strokeWidth": 1},
      "encoding": {
        "x": {"field": "event", "type": "quantitative", "scale": {"domain": [0, 100], "range": [57.3, 293.3], "nice": false, "zero": false},
              "axis": {"orient": "top", "offset": -76, "title": "Hip Flexion/Extension Moment (N-m)", "labels": false, "ticks": false, "domain": false, "titleFontSize": 16.4, "titlePadding": 26, "titleX": 165, "minExtent": 0, "maxExtent": 0}},
        "y": {"datum": -40, "type": "quantitative", "scale": {"domain": [-40, 60], "range": [252, 76], "nice": false, "zero": false}, "axis": null},
        "y2": {"datum": 60}
      }
    },
    {
      "data": {"name": "zoom1a"},
      "layer": [
        {"mark": {"type": "area", "interpolate": "monotone", "color": "#c9cbf7"},
         "encoding": {
           "x": {"field": "cycle", "type": "quantitative", "scale": {"domain": [45, 58], "range": [232.7, 286], "nice": false, "zero": false},
                 "axis": {"orient": "bottom", "offset": -452.3, "values": [48, 58], "format": "d", "title": null, "labelFontSize": 11.5, "labelPadding": 3, "zindex": 2}},
           "y": {"field": "lower", "type": "quantitative", "scale": {"domain": [38.8, 51], "range": [120.7, 71.7], "nice": false, "zero": false},
                 "axis": {"orient": "left", "offset": -232.7, "values": [40, 50], "format": "d", "title": null, "labelFontSize": 11.5, "labelPadding": 2, "zindex": 2}},
           "y2": {"field": "upper"}}},
        {"mark": {"type": "line", "interpolate": "monotone", "color": "#1f22f0", "strokeWidth": 1.5},
         "encoding": {"x": {"field": "cycle", "type": "quantitative"}, "y": {"field": "mean", "type": "quantitative"}}},
        {"data": {"name": "annotations"}, "transform": [{"filter": "datum.inset == '1a'"}],
         "layer": [
           {"mark": {"type": "rule", "color": "#9a9a9a", "strokeWidth": 1.2}, "encoding": {"x": {"field": "from", "type": "quantitative"}, "x2": {"field": "to"}, "y": {"field": "high", "type": "quantitative"}}},
           {"mark": {"type": "rule", "color": "#9a9a9a", "strokeWidth": 1.2}, "encoding": {"x": {"field": "from", "type": "quantitative"}, "x2": {"field": "to"}, "y": {"field": "low", "type": "quantitative"}}},
           {"mark": {"type": "rule", "color": "#111111", "strokeWidth": 1}, "encoding": {"x": {"field": "at", "type": "quantitative"}, "y": {"field": "high", "type": "quantitative"}, "y2": {"field": "low"}}},
           {"mark": {"type": "point", "shape": "triangle-up", "filled": true, "color": "#111111", "size": 14, "opacity": 1}, "encoding": {"x": {"field": "at", "type": "quantitative"}, "y": {"field": "high", "type": "quantitative"}}},
           {"mark": {"type": "point", "shape": "triangle-down", "filled": true, "color": "#111111", "size": 14, "opacity": 1}, "encoding": {"x": {"field": "at", "type": "quantitative"}, "y": {"field": "low", "type": "quantitative"}}},
           {"mark": {"type": "text", "align": "left", "baseline": "middle", "fontSize": 12.5, "color": "#111111"}, "encoding": {"x": {"field": "labelAt", "type": "quantitative"}, "y": {"field": "mid", "type": "quantitative"}, "text": {"field": "label"}}}
         ]}
      ]
    },
    {
      "data": {"name": "zoom1b"},
      "layer": [
        {"mark": {"type": "area", "interpolate": "monotone", "color": "#c9cbf7"},
         "encoding": {
           "x": {"field": "cycle", "type": "quantitative", "scale": {"domain": [86, 100], "range": [347.3, 403.3], "nice": false, "zero": false},
                 "axis": {"orient": "bottom", "offset": -378, "values": [90, 100], "format": "d", "title": null, "labelFontSize": 11.5, "labelPadding": 3, "zindex": 2}},
           "y": {"field": "lower", "type": "quantitative", "scale": {"domain": [-10, 16], "range": [195, 147.4], "nice": false, "zero": false},
                 "axis": {"orient": "left", "offset": -347.3, "values": [-10, 0, 15], "format": "d", "title": null, "labelFontSize": 11.5, "labelPadding": 2, "zindex": 2}},
           "y2": {"field": "upper"}}},
        {"mark": {"type": "rule", "color": "#666666", "strokeWidth": 1.3},
         "encoding": {"x": {"datum": 86}, "x2": {"datum": 97}, "y": {"datum": 0}}},
        {"mark": {"type": "line", "interpolate": "monotone", "color": "#1f22f0", "strokeWidth": 1.5},
         "encoding": {"x": {"field": "cycle", "type": "quantitative"}, "y": {"field": "mean", "type": "quantitative"}}},
        {"data": {"name": "annotations"}, "transform": [{"filter": "datum.inset == '1b'"}],
         "layer": [
           {"mark": {"type": "rule", "color": "#9a9a9a", "strokeWidth": 1.2}, "encoding": {"x": {"field": "from", "type": "quantitative"}, "x2": {"field": "to"}, "y": {"field": "high", "type": "quantitative"}}},
           {"mark": {"type": "rule", "color": "#9a9a9a", "strokeWidth": 1.2}, "encoding": {"x": {"field": "from", "type": "quantitative"}, "x2": {"field": "to"}, "y": {"field": "low", "type": "quantitative"}}},
           {"mark": {"type": "rule", "color": "#111111", "strokeWidth": 1}, "encoding": {"x": {"field": "at", "type": "quantitative"}, "y": {"field": "high", "type": "quantitative"}, "y2": {"field": "low"}}},
           {"mark": {"type": "point", "shape": "triangle-up", "filled": true, "color": "#111111", "size": 14, "opacity": 1}, "encoding": {"x": {"field": "at", "type": "quantitative"}, "y": {"field": "high", "type": "quantitative"}}},
           {"mark": {"type": "point", "shape": "triangle-down", "filled": true, "color": "#111111", "size": 14, "opacity": 1}, "encoding": {"x": {"field": "at", "type": "quantitative"}, "y": {"field": "low", "type": "quantitative"}}},
           {"mark": {"type": "text", "align": "left", "baseline": "middle", "fontSize": 12.5, "color": "#111111"}, "encoding": {"x": {"field": "labelAt", "type": "quantitative"}, "y": {"field": "mid", "type": "quantitative"}, "text": {"field": "label"}}}
         ]}
      ]
    },
    {
      "data": {"name": "hipAddAbd"},
      "layer": [
        {"mark": {"type": "area", "interpolate": "monotone", "color": "#c9cbf7"},
         "encoding": {
           "x": {"field": "cycle", "type": "quantitative", "scale": {"domain": [0, 100], "range": [519.3, 777.7], "nice": false, "zero": false},
                 "axis": {"orient": "bottom", "offset": -324.7, "values": [0, 20, 40, 60, 80, 100], "title": "% Gait Cycle", "labelFontSize": 15.5, "titleFontSize": 17.5, "labelPadding": 9, "titlePadding": 0}},
           "y": {"field": "lower", "type": "quantitative", "scale": {"domain": [-40, 20], "range": [248.3, 56], "nice": false, "zero": false},
                 "axis": {"orient": "left", "offset": -519.3, "values": [-40, -20, 0, 20], "title": "Abduction    ◂──────▸  Adduction", "labelFontSize": 15.5, "titleFontSize": 17, "labelPadding": 5, "titlePadding": 3, "titleY": 146}},
           "y2": {"field": "upper"}}},
        {"mark": {"type": "line", "interpolate": "monotone", "color": "#1f22f0", "strokeWidth": 1.6},
         "encoding": {"x": {"field": "cycle", "type": "quantitative"}, "y": {"field": "mean", "type": "quantitative"}}},
        {"mark": {"type": "rule", "color": "#555555", "strokeWidth": 1.4},
         "encoding": {"x": {"datum": 0}, "x2": {"datum": 100}, "y": {"datum": 0}}},
        {"data": {"name": "frames"}, "transform": [{"filter": "datum.panel == 2 && datum.part == 'inset'"}],
         "mark": {"type": "rect", "fill": "white", "stroke": "#555555", "strokeWidth": 1.5},
         "encoding": {"x": {"field": "x1", "type": "quantitative"}, "x2": {"field": "x2"}, "y": {"field": "y1", "type": "quantitative"}, "y2": {"field": "y2"}}},
        {"data": {"name": "frames"}, "transform": [{"filter": "datum.panel == 2 && datum.part == 'source'"}],
         "mark": {"type": "rect", "filled": false, "color": "#555555", "strokeWidth": 1.5},
         "encoding": {"x": {"field": "x1", "type": "quantitative"}, "x2": {"field": "x2"}, "y": {"field": "y1", "type": "quantitative"}, "y2": {"field": "y2"}}},
        {"data": {"name": "links"}, "transform": [{"filter": "datum.panel == 2"}],
         "mark": {"type": "rule", "color": "#555555", "strokeWidth": 1.2},
         "encoding": {"x": {"field": "x1", "type": "quantitative"}, "x2": {"field": "x2"}, "y": {"field": "y1", "type": "quantitative"}, "y2": {"field": "y2"}}}
      ]
    },
    {
      "data": {"name": "events"},
      "mark": {"type": "rule", "color": "#b5b5b5", "strokeDash": [2, 2], "strokeWidth": 1},
      "encoding": {
        "x": {"field": "event", "type": "quantitative", "scale": {"domain": [0, 100], "range": [519.3, 777.7], "nice": false, "zero": false},
              "axis": {"orient": "top", "offset": -56, "title": "Hip Adduction/Abduction Moment (N-m)", "labels": false, "ticks": false, "domain": false, "titleFontSize": 18, "titlePadding": 18, "titleX": 668, "minExtent": 0, "maxExtent": 0}},
        "y": {"datum": -40, "type": "quantitative", "scale": {"domain": [-40, 20], "range": [248.3, 56], "nice": false, "zero": false}, "axis": null},
        "y2": {"datum": 20}
      }
    },
    {
      "data": {"name": "zoom2a"},
      "layer": [
        {"mark": {"type": "area", "interpolate": "monotone", "color": "#c9cbf7"},
         "encoding": {
           "x": {"field": "cycle", "type": "quantitative", "scale": {"domain": [13.4, 26], "range": [646.7, 695.8], "nice": false, "zero": false},
                 "axis": {"orient": "bottom", "offset": -346.3, "values": [16, 26], "format": "d", "title": null, "labelFontSize": 12, "labelPadding": 3, "zindex": 2}},
           "y": {"field": "lower", "type": "quantitative", "scale": {"domain": [-36.7, -28], "range": [226.7, 174.5], "nice": false, "zero": false},
                 "axis": {"orient": "left", "offset": -646.7, "values": [-34, -30], "format": "d", "title": null, "labelFontSize": 12, "labelPadding": 2, "zindex": 2}},
           "y2": {"field": "upper"}}},
        {"mark": {"type": "line", "interpolate": "monotone", "color": "#1f22f0", "strokeWidth": 1.5},
         "encoding": {"x": {"field": "cycle", "type": "quantitative"}, "y": {"field": "mean", "type": "quantitative"}}},
        {"data": {"name": "annotations"}, "transform": [{"filter": "datum.inset == '2a'"}],
         "layer": [
           {"mark": {"type": "rule", "color": "#9a9a9a", "strokeWidth": 1.2}, "encoding": {"x": {"field": "from", "type": "quantitative"}, "x2": {"field": "to"}, "y": {"field": "high", "type": "quantitative"}}},
           {"mark": {"type": "rule", "color": "#9a9a9a", "strokeWidth": 1.2}, "encoding": {"x": {"field": "from", "type": "quantitative"}, "x2": {"field": "to"}, "y": {"field": "low", "type": "quantitative"}}},
           {"mark": {"type": "rule", "color": "#111111", "strokeWidth": 1}, "encoding": {"x": {"field": "at", "type": "quantitative"}, "y": {"field": "high", "type": "quantitative"}, "y2": {"field": "low"}}},
           {"mark": {"type": "point", "shape": "triangle-up", "filled": true, "color": "#111111", "size": 14, "opacity": 1}, "encoding": {"x": {"field": "at", "type": "quantitative"}, "y": {"field": "high", "type": "quantitative"}}},
           {"mark": {"type": "point", "shape": "triangle-down", "filled": true, "color": "#111111", "size": 14, "opacity": 1}, "encoding": {"x": {"field": "at", "type": "quantitative"}, "y": {"field": "low", "type": "quantitative"}}},
           {"mark": {"type": "text", "align": "left", "baseline": "middle", "fontSize": 13, "color": "#111111"}, "encoding": {"x": {"field": "labelAt", "type": "quantitative"}, "y": {"field": "mid", "type": "quantitative"}, "text": {"field": "label"}}}
         ]}
      ]
    },
    {
      "data": {"name": "zoom2b"},
      "layer": [
        {"mark": {"type": "area", "interpolate": "monotone", "color": "#c9cbf7"},
         "encoding": {
           "x": {"field": "cycle", "type": "quantitative", "scale": {"domain": [78.5, 92.5], "range": [803.3, 855.5], "nice": false, "zero": false},
                 "axis": {"orient": "bottom", "offset": -435, "values": [82, 92], "format": "d", "title": null, "labelFontSize": 12, "labelPadding": 3, "zindex": 2}},
           "y": {"field": "lower", "type": "quantitative", "scale": {"domain": [-4, 3.7], "range": [138, 82.2], "nice": false, "zero": false},
                 "axis": {"orient": "left", "offset": -803.3, "values": [-2, 2], "format": "d", "title": null, "labelFontSize": 12, "labelPadding": 2, "zindex": 2}},
           "y2": {"field": "upper"}}},
        {"mark": {"type": "line", "interpolate": "monotone", "color": "#1f22f0", "strokeWidth": 1.5},
         "encoding": {"x": {"field": "cycle", "type": "quantitative"}, "y": {"field": "mean", "type": "quantitative"}}},
        {"data": {"name": "annotations"}, "transform": [{"filter": "datum.inset == '2b'"}],
         "layer": [
           {"mark": {"type": "rule", "color": "#9a9a9a", "strokeWidth": 1.2}, "encoding": {"x": {"field": "from", "type": "quantitative"}, "x2": {"field": "to"}, "y": {"field": "high", "type": "quantitative"}}},
           {"mark": {"type": "rule", "color": "#9a9a9a", "strokeWidth": 1.2}, "encoding": {"x": {"field": "from", "type": "quantitative"}, "x2": {"field": "to"}, "y": {"field": "low", "type": "quantitative"}}},
           {"mark": {"type": "rule", "color": "#111111", "strokeWidth": 1}, "encoding": {"x": {"field": "at", "type": "quantitative"}, "y": {"field": "high", "type": "quantitative"}, "y2": {"field": "low"}}},
           {"mark": {"type": "point", "shape": "triangle-up", "filled": true, "color": "#111111", "size": 14, "opacity": 1}, "encoding": {"x": {"field": "at", "type": "quantitative"}, "y": {"field": "high", "type": "quantitative"}}},
           {"mark": {"type": "point", "shape": "triangle-down", "filled": true, "color": "#111111", "size": 14, "opacity": 1}, "encoding": {"x": {"field": "at", "type": "quantitative"}, "y": {"field": "low", "type": "quantitative"}}},
           {"mark": {"type": "text", "align": "left", "baseline": "middle", "fontSize": 13, "color": "#111111"}, "encoding": {"x": {"field": "labelAt", "type": "quantitative"}, "y": {"field": "mid", "type": "quantitative"}, "text": {"field": "label"}}}
         ]}
      ]
    },
    {
      "data": {"name": "hipIntExt"},
      "layer": [
        {"mark": {"type": "area", "interpolate": "monotone", "color": "#c9cbf7"},
         "encoding": {
           "x": {"field": "cycle", "type": "quantitative", "scale": {"domain": [0, 100], "range": [60.3, 313.3], "nice": false, "zero": false},
                 "axis": {"orient": "bottom", "offset": -43.7, "values": [0, 20, 40, 60, 80, 100], "title": "% Gait Cycle", "labelFontSize": 14.5, "titleFontSize": 17.5, "labelPadding": 10, "titlePadding": 1}},
           "y": {"field": "lower", "type": "quantitative", "scale": {"domain": [-10, 10], "range": [529.3, 339], "nice": false, "zero": false},
                 "axis": {"orient": "left", "offset": -60.3, "values": [-10, -5, 0, 5, 10], "title": "External  ◂────▸ Internal", "labelFontSize": 14.5, "titleFontSize": 17, "labelPadding": 5, "titlePadding": 6, "titleY": 440}},
           "y2": {"field": "upper"}}},
        {"mark": {"type": "line", "interpolate": "monotone", "color": "#1f22f0", "strokeWidth": 1.6},
         "encoding": {"x": {"field": "cycle", "type": "quantitative"}, "y": {"field": "mean", "type": "quantitative"}}},
        {"mark": {"type": "rule", "color": "#555555", "strokeWidth": 1.4},
         "encoding": {"x": {"datum": 0}, "x2": {"datum": 100}, "y": {"datum": 0}}},
        {"data": {"name": "frames"}, "transform": [{"filter": "datum.panel == 3 && datum.part == 'inset'"}],
         "mark": {"type": "rect", "fill": "white", "stroke": "#555555", "strokeWidth": 1.5},
         "encoding": {"x": {"field": "x1", "type": "quantitative"}, "x2": {"field": "x2"}, "y": {"field": "y1", "type": "quantitative"}, "y2": {"field": "y2"}}},
        {"data": {"name": "frames"}, "transform": [{"filter": "datum.panel == 3 && datum.part == 'source'"}],
         "mark": {"type": "rect", "filled": false, "color": "#555555", "strokeWidth": 1.5},
         "encoding": {"x": {"field": "x1", "type": "quantitative"}, "x2": {"field": "x2"}, "y": {"field": "y1", "type": "quantitative"}, "y2": {"field": "y2"}}},
        {"data": {"name": "links"}, "transform": [{"filter": "datum.panel == 3"}],
         "mark": {"type": "rule", "color": "#555555", "strokeWidth": 1.2},
         "encoding": {"x": {"field": "x1", "type": "quantitative"}, "x2": {"field": "x2"}, "y": {"field": "y1", "type": "quantitative"}, "y2": {"field": "y2"}}}
      ]
    },
    {
      "data": {"name": "events"},
      "mark": {"type": "rule", "color": "#b5b5b5", "strokeDash": [2, 2], "strokeWidth": 1},
      "encoding": {
        "x": {"field": "event", "type": "quantitative", "scale": {"domain": [0, 100], "range": [60.3, 313.3], "nice": false, "zero": false},
              "axis": {"orient": "top", "offset": -339, "title": "Hip Internal/External Moment (N-m)", "labels": false, "ticks": false, "domain": false, "titleFontSize": 17.5, "titlePadding": 6, "titleX": 195, "minExtent": 0, "maxExtent": 0}},
        "y": {"datum": -10, "type": "quantitative", "scale": {"domain": [-10, 10], "range": [529.3, 339], "nice": false, "zero": false}, "axis": null},
        "y2": {"datum": 10}
      }
    },
    {
      "data": {"name": "zoom3a"},
      "layer": [
        {"mark": {"type": "area", "interpolate": "monotone", "color": "#c9cbf7"},
         "encoding": {
           "x": {"field": "cycle", "type": "quantitative", "scale": {"domain": [19.3, 25.2], "range": [163.7, 233.3], "nice": false, "zero": false},
                 "axis": {"orient": "bottom", "offset": -65.4, "values": [20, 25], "format": "d", "title": null, "labelFontSize": 12, "labelPadding": 3, "zindex": 2}},
           "y": {"field": "lower", "type": "quantitative", "scale": {"domain": [-34.3, -30.4], "range": [507.6, 447.8], "nice": false, "zero": false},
                 "axis": {"orient": "left", "offset": -163.7, "values": [-34, -31], "format": "d", "title": null, "labelFontSize": 12, "labelPadding": 2, "zindex": 2}},
           "y2": {"field": "upper"}}},
        {"mark": {"type": "line", "interpolate": "monotone", "color": "#1f22f0", "strokeWidth": 1.5},
         "encoding": {"x": {"field": "cycle", "type": "quantitative"}, "y": {"field": "mean", "type": "quantitative"}}},
        {"data": {"name": "annotations"}, "transform": [{"filter": "datum.inset == '3a'"}],
         "layer": [
           {"mark": {"type": "rule", "color": "#9a9a9a", "strokeWidth": 1.2}, "encoding": {"x": {"field": "from", "type": "quantitative"}, "x2": {"field": "to"}, "y": {"field": "high", "type": "quantitative"}}},
           {"mark": {"type": "rule", "color": "#9a9a9a", "strokeWidth": 1.2}, "encoding": {"x": {"field": "from", "type": "quantitative"}, "x2": {"field": "to"}, "y": {"field": "low", "type": "quantitative"}}},
           {"mark": {"type": "rule", "color": "#111111", "strokeWidth": 1}, "encoding": {"x": {"field": "at", "type": "quantitative"}, "y": {"field": "high", "type": "quantitative"}, "y2": {"field": "low"}}},
           {"mark": {"type": "point", "shape": "triangle-up", "filled": true, "color": "#111111", "size": 14, "opacity": 1}, "encoding": {"x": {"field": "at", "type": "quantitative"}, "y": {"field": "high", "type": "quantitative"}}},
           {"mark": {"type": "point", "shape": "triangle-down", "filled": true, "color": "#111111", "size": 14, "opacity": 1}, "encoding": {"x": {"field": "at", "type": "quantitative"}, "y": {"field": "low", "type": "quantitative"}}},
           {"mark": {"type": "text", "align": "left", "baseline": "middle", "fontSize": 13, "color": "#111111"}, "encoding": {"x": {"field": "labelAt", "type": "quantitative"}, "y": {"field": "mid", "type": "quantitative"}, "text": {"field": "label"}}}
         ]}
      ]
    },
    {
      "data": {"name": "zoom3b"},
      "layer": [
        {"mark": {"type": "area", "interpolate": "monotone", "color": "#c9cbf7"},
         "encoding": {
           "x": {"field": "cycle", "type": "quantitative", "scale": {"domain": [83.3, 96.5], "range": [347.3, 417.7], "nice": false, "zero": false},
                 "axis": {"orient": "bottom", "offset": -111.3, "values": [86, 96], "format": "d", "title": null, "labelFontSize": 12, "labelPadding": 3, "zindex": 2}},
           "y": {"field": "lower", "type": "quantitative", "scale": {"domain": [-2, 0.3], "range": [461.7, 406], "nice": false, "zero": false},
                 "axis": {"orient": "left", "offset": -347.3, "values": [-2, 0], "format": "d", "title": null, "labelFontSize": 12, "labelPadding": 2, "zindex": 2}},
           "y2": {"field": "upper"}}},
        {"mark": {"type": "rule", "color": "#666666", "strokeWidth": 1.3},
         "encoding": {"x": {"datum": 83.3}, "x2": {"datum": 96.5}, "y": {"datum": 0}}},
        {"mark": {"type": "line", "interpolate": "monotone", "color": "#1f22f0", "strokeWidth": 1.5},
         "encoding": {"x": {"field": "cycle", "type": "quantitative"}, "y": {"field": "mean", "type": "quantitative"}}},
        {"data": {"name": "annotations"}, "transform": [{"filter": "datum.inset == '3b'"}],
         "layer": [
           {"mark": {"type": "rule", "color": "#9a9a9a", "strokeWidth": 1.2}, "encoding": {"x": {"field": "from", "type": "quantitative"}, "x2": {"field": "to"}, "y": {"field": "high", "type": "quantitative"}}},
           {"mark": {"type": "rule", "color": "#9a9a9a", "strokeWidth": 1.2}, "encoding": {"x": {"field": "from", "type": "quantitative"}, "x2": {"field": "to"}, "y": {"field": "low", "type": "quantitative"}}},
           {"mark": {"type": "rule", "color": "#111111", "strokeWidth": 1}, "encoding": {"x": {"field": "at", "type": "quantitative"}, "y": {"field": "high", "type": "quantitative"}, "y2": {"field": "low"}}},
           {"mark": {"type": "point", "shape": "triangle-up", "filled": true, "color": "#111111", "size": 14, "opacity": 1}, "encoding": {"x": {"field": "at", "type": "quantitative"}, "y": {"field": "high", "type": "quantitative"}}},
           {"mark": {"type": "point", "shape": "triangle-down", "filled": true, "color": "#111111", "size": 14, "opacity": 1}, "encoding": {"x": {"field": "at", "type": "quantitative"}, "y": {"field": "low", "type": "quantitative"}}},
           {"mark": {"type": "text", "align": "left", "baseline": "middle", "fontSize": 13, "color": "#111111"}, "encoding": {"x": {"field": "labelAt", "type": "quantitative"}, "y": {"field": "mid", "type": "quantitative"}, "text": {"field": "label"}}}
         ]}
      ]
    },
    {
      "data": {"name": "kneeFlexExt"},
      "layer": [
        {"mark": {"type": "area", "interpolate": "monotone", "color": "#c9cbf7"},
         "encoding": {
           "x": {"field": "cycle", "type": "quantitative", "scale": {"domain": [0, 100], "range": [513.3, 764], "nice": false, "zero": false},
                 "axis": {"orient": "bottom", "offset": -39, "values": [0, 20, 40, 60, 80, 100], "title": "% Gait Cycle", "labelFontSize": 14.5, "titleFontSize": 17.5, "labelPadding": 5, "titlePadding": 1}},
           "y": {"field": "lower", "type": "quantitative", "scale": {"domain": [-20, 60], "range": [534, 347.3], "nice": false, "zero": false},
                 "axis": {"orient": "left", "offset": -513.3, "values": [-20, 0, 20, 40, 60], "title": "Flexion ◂─────▸ Extension", "labelFontSize": 14.5, "titleFontSize": 17, "labelPadding": 5, "titlePadding": 6, "titleY": 435}},
           "y2": {"field": "upper"}}},
        {"mark": {"type": "line", "interpolate": "monotone", "color": "#1f22f0", "strokeWidth": 1.6},
         "encoding": {"x": {"field": "cycle", "type": "quantitative"}, "y": {"field": "mean", "type": "quantitative"}}},
        {"mark": {"type": "rule", "color": "#555555", "strokeWidth": 1.4},
         "encoding": {"x": {"datum": 0}, "x2": {"datum": 100}, "y": {"datum": 0}}},
        {"data": {"name": "frames"}, "transform": [{"filter": "datum.panel == 4 && datum.part == 'inset'"}],
         "mark": {"type": "rect", "fill": "white", "stroke": "#555555", "strokeWidth": 1.5},
         "encoding": {"x": {"field": "x1", "type": "quantitative"}, "x2": {"field": "x2"}, "y": {"field": "y1", "type": "quantitative"}, "y2": {"field": "y2"}}},
        {"data": {"name": "frames"}, "transform": [{"filter": "datum.panel == 4 && datum.part == 'source'"}],
         "mark": {"type": "rect", "filled": false, "color": "#555555", "strokeWidth": 1.5},
         "encoding": {"x": {"field": "x1", "type": "quantitative"}, "x2": {"field": "x2"}, "y": {"field": "y1", "type": "quantitative"}, "y2": {"field": "y2"}}},
        {"data": {"name": "links"}, "transform": [{"filter": "datum.panel == 4"}],
         "mark": {"type": "rule", "color": "#555555", "strokeWidth": 1.2},
         "encoding": {"x": {"field": "x1", "type": "quantitative"}, "x2": {"field": "x2"}, "y": {"field": "y1", "type": "quantitative"}, "y2": {"field": "y2"}}}
      ]
    },
    {
      "data": {"name": "events"},
      "mark": {"type": "rule", "color": "#b5b5b5", "strokeDash": [2, 2], "strokeWidth": 1},
      "encoding": {
        "x": {"field": "event", "type": "quantitative", "scale": {"domain": [0, 100], "range": [513.3, 764], "nice": false, "zero": false},
              "axis": {"orient": "top", "offset": -347.3, "title": "Knee Flexion/Extension Moment (N-m)", "labels": false, "ticks": false, "domain": false, "titleFontSize": 17.2, "titlePadding": 6, "titleX": 660, "minExtent": 0, "maxExtent": 0}},
        "y": {"datum": -20, "type": "quantitative", "scale": {"domain": [-20, 60], "range": [534, 347.3], "nice": false, "zero": false}, "axis": null},
        "y2": {"datum": 60}
      }
    },
    {
      "data": {"name": "zoom4a"},
      "layer": [
        {"mark": {"type": "area", "interpolate": "monotone", "color": "#c9cbf7"},
         "encoding": {
           "x": {"field": "cycle", "type": "quantitative", "scale": {"domain": [44.7, 58.2], "range": [611.5, 673.6], "nice": false, "zero": false},
                 "axis": {"orient": "bottom", "offset": -171.7, "values": [48, 58], "format": "d", "title": null, "labelFontSize": 12, "labelPadding": 3, "zindex": 2}},
           "y": {"field": "lower", "type": "quantitative", "scale": {"domain": [37.3, 48.8], "range": [401.3, 353.3], "nice": false, "zero": false},
                 "axis": {"orient": "left", "offset": -611.5, "values": [38, 48], "format": "d", "title": null, "labelFontSize": 12, "labelPadding": 2, "zindex": 2}},
           "y2": {"field": "upper"}}},
        {"mark": {"type": "line", "interpolate": "monotone", "color": "#1f22f0", "strokeWidth": 1.5},
         "encoding": {"x": {"field": "cycle", "type": "quantitative"}, "y": {"field": "mean", "type": "quantitative"}}},
        {"data": {"name": "annotations"}, "transform": [{"filter": "datum.inset == '4a'"}],
         "layer": [
           {"mark": {"type": "rule", "color": "#9a9a9a", "strokeWidth": 1.2}, "encoding": {"x": {"field": "from", "type": "quantitative"}, "x2": {"field": "to"}, "y": {"field": "high", "type": "quantitative"}}},
           {"mark": {"type": "rule", "color": "#9a9a9a", "strokeWidth": 1.2}, "encoding": {"x": {"field": "from", "type": "quantitative"}, "x2": {"field": "to"}, "y": {"field": "low", "type": "quantitative"}}},
           {"mark": {"type": "rule", "color": "#111111", "strokeWidth": 1}, "encoding": {"x": {"field": "at", "type": "quantitative"}, "y": {"field": "high", "type": "quantitative"}, "y2": {"field": "low"}}},
           {"mark": {"type": "point", "shape": "triangle-up", "filled": true, "color": "#111111", "size": 14, "opacity": 1}, "encoding": {"x": {"field": "at", "type": "quantitative"}, "y": {"field": "high", "type": "quantitative"}}},
           {"mark": {"type": "point", "shape": "triangle-down", "filled": true, "color": "#111111", "size": 14, "opacity": 1}, "encoding": {"x": {"field": "at", "type": "quantitative"}, "y": {"field": "low", "type": "quantitative"}}},
           {"mark": {"type": "text", "align": "left", "baseline": "middle", "fontSize": 13, "color": "#111111"}, "encoding": {"x": {"field": "labelAt", "type": "quantitative"}, "y": {"field": "mid", "type": "quantitative"}, "text": {"field": "label"}}}
         ]}
      ]
    },
    {
      "data": {"name": "zoom4b"},
      "layer": [
        {"mark": {"type": "area", "interpolate": "monotone", "color": "#c9cbf7"},
         "encoding": {
           "x": {"field": "cycle", "type": "quantitative", "scale": {"domain": [86.2, 101], "range": [812.9, 879.5], "nice": false, "zero": false},
                 "axis": {"orient": "bottom", "offset": -52.3, "values": [90, 100], "format": "d", "title": null, "labelFontSize": 12, "labelPadding": 3, "zindex": 2}},
           "y": {"field": "lower", "type": "quantitative", "scale": {"domain": [-12, -2.4], "range": [520.7, 469.8], "nice": false, "zero": false},
                 "axis": {"orient": "left", "offset": -812.9, "values": [-12, -8, -4], "format": "d", "title": null, "labelFontSize": 12, "labelPadding": 2, "zindex": 2}},
           "y2": {"field": "upper"}}},
        {"mark": {"type": "line", "interpolate": "monotone", "color": "#1f22f0", "strokeWidth": 1.5},
         "encoding": {"x": {"field": "cycle", "type": "quantitative"}, "y": {"field": "mean", "type": "quantitative"}}},
        {"data": {"name": "annotations"}, "transform": [{"filter": "datum.inset == '4b'"}],
         "layer": [
           {"mark": {"type": "rule", "color": "#9a9a9a", "strokeWidth": 1.2}, "encoding": {"x": {"field": "from", "type": "quantitative"}, "x2": {"field": "to"}, "y": {"field": "high", "type": "quantitative"}}},
           {"mark": {"type": "rule", "color": "#9a9a9a", "strokeWidth": 1.2}, "encoding": {"x": {"field": "from", "type": "quantitative"}, "x2": {"field": "to"}, "y": {"field": "low", "type": "quantitative"}}},
           {"mark": {"type": "rule", "color": "#111111", "strokeWidth": 1}, "encoding": {"x": {"field": "at", "type": "quantitative"}, "y": {"field": "high", "type": "quantitative"}, "y2": {"field": "low"}}},
           {"mark": {"type": "point", "shape": "triangle-up", "filled": true, "color": "#111111", "size": 14, "opacity": 1}, "encoding": {"x": {"field": "at", "type": "quantitative"}, "y": {"field": "high", "type": "quantitative"}}},
           {"mark": {"type": "point", "shape": "triangle-down", "filled": true, "color": "#111111", "size": 14, "opacity": 1}, "encoding": {"x": {"field": "at", "type": "quantitative"}, "y": {"field": "low", "type": "quantitative"}}},
           {"mark": {"type": "text", "align": "left", "baseline": "middle", "fontSize": 13, "color": "#111111"}, "encoding": {"x": {"field": "labelAt", "type": "quantitative"}, "y": {"field": "mid", "type": "quantitative"}, "text": {"field": "label"}}}
         ]}
      ]
    }
  ]
}
